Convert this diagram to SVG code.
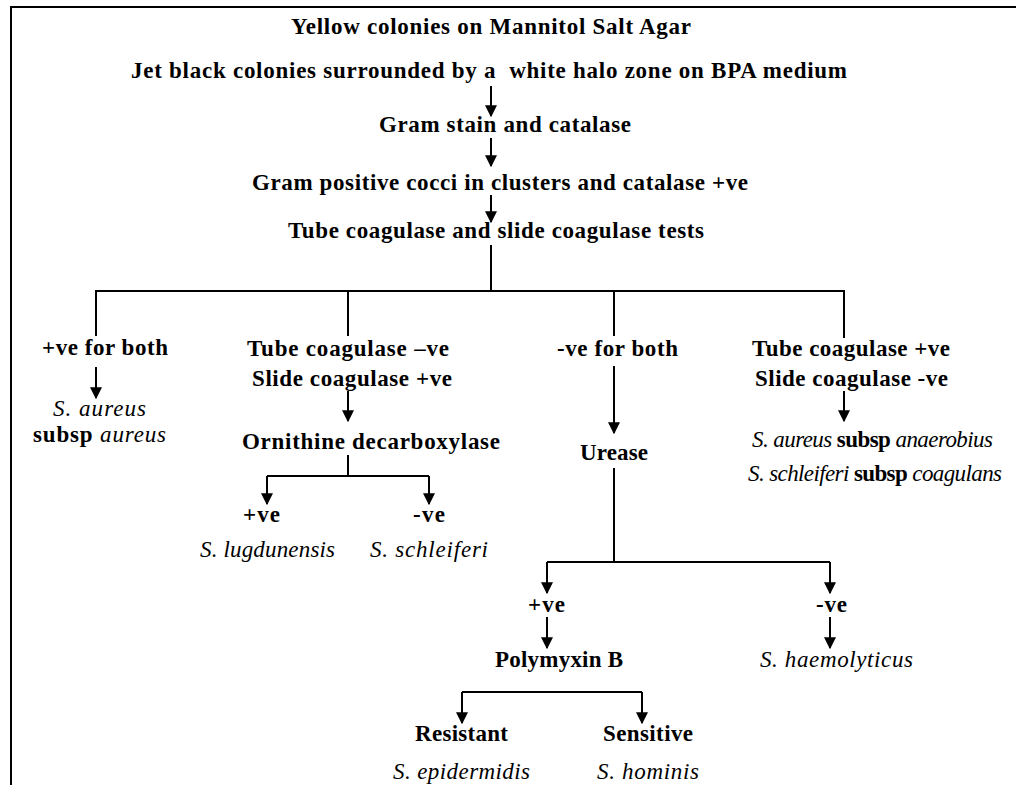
<svg xmlns="http://www.w3.org/2000/svg" width="1016" height="785" viewBox="0 0 1016 785">
  <style>
    text { font-family: "Liberation Serif", "Times New Roman", serif; font-size: 23px; fill: #000; }
    .b { font-weight: bold; }
    .i { font-style: italic; font-weight: normal; }
    .c { text-anchor: middle; }
    .ln { fill: none; stroke: #000; stroke-width: 2; }
    .ar { fill: none; stroke: #000; stroke-width: 2; marker-end: url(#arrow); }
  </style>
  <defs>
    <marker id="arrow" viewBox="0 0 10 10" refX="9" refY="5" markerWidth="6" markerHeight="6" markerUnits="strokeWidth" orient="auto">
      <path d="M0,0 L10,5 L0,10 z" fill="#000"/>
    </marker>
  </defs>
  <rect width="1016" height="785" fill="#fff"/>

  <!-- frame: top and left edges -->
  <path class="ln" d="M11,785 V7 H1016" stroke-width="3"/>

  <g id="connectors">
    <path class="ar" d="M491,86 V116"/>
    <path class="ar" d="M491,138 V166"/>
    <path class="ar" d="M491,195 V222"/>
    <path class="ln" d="M491,245 V291"/>
    <path class="ln" d="M96,336 V291 H844 V338"/>
    <path class="ln" d="M348,291 V336"/>
    <path class="ln" d="M614,291 V336"/>
    <path class="ar" d="M96,367 V398"/>
    <path class="ar" d="M348,391 V421"/>
    <path class="ar" d="M844,391 V421"/>
    <path class="ar" d="M614,366 V433"/>
    <path class="ln" d="M348,455 V476"/>
    <path class="ar" d="M267,476 V504"/>
    <path class="ln" d="M267,476 H429"/>
    <path class="ar" d="M429,476 V504"/>
    <path class="ln" d="M614,468 V562"/>
    <path class="ar" d="M547,562 V593"/>
    <path class="ln" d="M547,562 H830"/>
    <path class="ar" d="M830,562 V593"/>
    <path class="ar" d="M547,617 V648"/>
    <path class="ar" d="M830,617 V648"/>
    <path class="ar" d="M462,692 V723"/>
    <path class="ln" d="M462,692 H642"/>
    <path class="ar" d="M642,692 V723"/>
  </g>

  <g id="mannitol"><text class="b" x="291" y="34" textLength="400" lengthAdjust="spacing">Yellow colonies on Mannitol Salt Agar</text></g>
  <g id="bpa"><text class="b" x="131" y="78" textLength="716" lengthAdjust="spacing" xml:space="preserve">Jet black colonies surrounded by a  white halo zone on BPA medium</text></g>
  <g id="gram-stain"><text class="b" x="379" y="132" textLength="252" lengthAdjust="spacing">Gram stain and catalase</text></g>
  <g id="gram-positive"><text class="b" x="252" y="190" textLength="496" lengthAdjust="spacing">Gram positive cocci in clusters and catalase +ve</text></g>
  <g id="coagulase-tests"><text class="b" x="288" y="238" textLength="416" lengthAdjust="spacing">Tube coagulase and slide coagulase tests</text></g>

  <g id="pos-both"><text class="b" x="42" y="355" textLength="126" lengthAdjust="spacing">+ve for both</text></g>
  <g id="aureus">
    <text class="i" x="53" y="416" textLength="93" lengthAdjust="spacing">S. aureus</text>
    <text class="b" x="33" y="442" textLength="133" lengthAdjust="spacing">subsp <tspan class="i">aureus</tspan></text>
  </g>

  <g id="tube-neg">
    <text class="b" x="247" y="356" textLength="202" lengthAdjust="spacing">Tube coagulase –ve</text>
    <text class="b" x="252" y="386" textLength="200" lengthAdjust="spacing">Slide coagulase +ve</text>
  </g>
  <g id="ornithine"><text class="b" x="242" y="449" textLength="258" lengthAdjust="spacing">Ornithine decarboxylase</text></g>
  <g id="orn-pos"><text class="b" x="243" y="522" textLength="37" lengthAdjust="spacing">+ve</text></g>
  <g id="orn-neg"><text class="b" x="413" y="522" textLength="32" lengthAdjust="spacing">-ve</text></g>
  <g id="lugdunensis"><text class="i" x="200" y="557" textLength="135" lengthAdjust="spacing">S. lugdunensis</text></g>
  <g id="schleiferi"><text class="i" x="370" y="557" textLength="118" lengthAdjust="spacing">S. schleiferi</text></g>

  <g id="neg-both"><text class="b" x="557" y="356" textLength="121" lengthAdjust="spacing">-ve for both</text></g>
  <g id="urease"><text class="b" x="580" y="460" textLength="68" lengthAdjust="spacing">Urease</text></g>
  <g id="ure-pos"><text class="b" x="528" y="612" textLength="37" lengthAdjust="spacing">+ve</text></g>
  <g id="ure-neg"><text class="b" x="816" y="612" textLength="31" lengthAdjust="spacing">-ve</text></g>
  <g id="polymyxin"><text class="b" x="495" y="667" textLength="128" lengthAdjust="spacing">Polymyxin B</text></g>
  <g id="haemolyticus"><text class="i" x="760" y="667" textLength="153" lengthAdjust="spacing">S. haemolyticus</text></g>
  <g id="resistant"><text class="b" x="415" y="741" textLength="93" lengthAdjust="spacing">Resistant</text></g>
  <g id="sensitive"><text class="b" x="603" y="741" textLength="90" lengthAdjust="spacing">Sensitive</text></g>
  <g id="epidermidis"><text class="i" x="393" y="779" textLength="137" lengthAdjust="spacing">S. epidermidis</text></g>
  <g id="hominis"><text class="i" x="597" y="779" textLength="102" lengthAdjust="spacing">S. hominis</text></g>

  <g id="tube-pos">
    <text class="b" x="752" y="356" textLength="198" lengthAdjust="spacing">Tube coagulase +ve</text>
    <text class="b" x="755" y="386" textLength="193" lengthAdjust="spacing">Slide coagulase -ve</text>
  </g>
  <g id="anaerobius">
    <text class="b" x="752" y="447" textLength="241" lengthAdjust="spacing"><tspan class="i">S. aureus</tspan> subsp <tspan class="i">anaerobius</tspan></text>
    <text class="b" x="748" y="481" textLength="254" lengthAdjust="spacing"><tspan class="i">S. schleiferi</tspan> subsp <tspan class="i">coagulans</tspan></text>
  </g>
</svg>
